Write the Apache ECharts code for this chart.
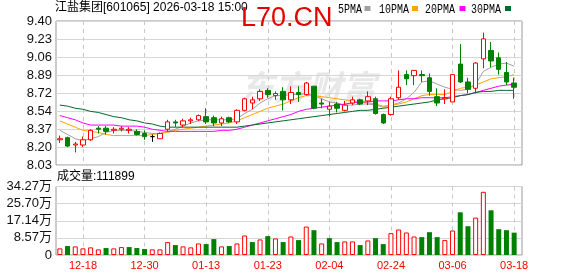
<!DOCTYPE html>
<html><head><meta charset="utf-8">
<script src="https://cdn.jsdelivr.net/npm/echarts@6/dist/echarts.min.js"></script>
<style>html,body{margin:0;padding:0;background:#fff}#c{width:578px;height:276px}</style>
</head><body><div id="c"></div>
<script>
const dates = ['12-15','12-16','12-17','12-18','12-19','12-22','12-23','12-24','12-25','12-26','12-29','12-30','12-31','01-05','01-06','01-07','01-08','01-09','01-12','01-13','01-14','01-15','01-16','01-19','01-20','01-21','01-22','01-23','01-26','01-27','01-28','01-29','01-30','02-02','02-03','02-04','02-05','02-06','02-09','02-10','02-11','02-12','02-13','02-24','02-25','02-26','02-27','03-02','03-03','03-04','03-05','03-06','03-09','03-10','03-11','03-12','03-13','03-16','03-17','03-18'];
const opens  = [8.27,8.29,8.22,8.22,8.27,8.38,8.38,8.36,8.37,8.36,8.35,8.33,8.30,8.28,8.37,8.44,8.41,8.45,8.46,8.49,8.48,8.43,8.48,8.44,8.55,8.62,8.66,8.74,8.69,8.73,8.65,8.72,8.70,8.78,8.62,8.56,8.61,8.55,8.62,8.65,8.64,8.66,8.51,8.51,8.67,8.89,8.88,8.89,8.86,8.68,8.66,8.63,8.99,8.82,8.76,9.04,9.12,9.05,8.91,8.81];
const closes = [8.28,8.21,8.23,8.27,8.36,8.37,8.35,8.37,8.38,8.37,8.32,8.30,8.30,8.33,8.44,8.43,8.45,8.46,8.50,8.44,8.43,8.47,8.44,8.55,8.66,8.65,8.73,8.70,8.71,8.65,8.72,8.70,8.81,8.57,8.61,8.59,8.57,8.60,8.65,8.61,8.68,8.52,8.43,8.66,8.77,8.85,8.93,8.88,8.73,8.62,8.67,8.89,8.82,8.75,9.00,9.23,9.02,8.94,8.82,8.77];
const lows   = [8.24,8.20,8.15,8.20,8.26,8.33,8.32,8.33,8.35,8.33,8.31,8.27,8.25,8.28,8.35,8.39,8.39,8.42,8.45,8.42,8.40,8.40,8.43,8.42,8.54,8.56,8.64,8.67,8.65,8.55,8.61,8.63,8.69,8.56,8.57,8.49,8.53,8.54,8.60,8.60,8.60,8.51,8.42,8.50,8.65,8.79,8.79,8.82,8.69,8.59,8.61,8.63,8.81,8.71,8.71,8.95,8.96,8.89,8.79,8.66];
const highs  = [8.31,8.30,8.25,8.30,8.37,8.40,8.40,8.39,8.40,8.39,8.37,8.36,8.32,8.34,8.46,8.46,8.47,8.48,8.51,8.57,8.50,8.49,8.49,8.56,8.67,8.68,8.75,8.76,8.73,8.77,8.78,8.78,8.82,8.78,8.66,8.63,8.63,8.64,8.68,8.66,8.73,8.68,8.52,8.68,8.93,8.93,8.93,8.93,8.90,8.76,8.75,8.89,9.18,8.86,9.01,9.29,9.20,9.10,9.01,8.86];
const ma5  = [8.36,8.32,8.28,8.26,8.28,8.30,8.34,8.36,8.36,8.36,8.35,8.34,8.33,8.33,8.35,8.37,8.40,8.43,8.45,8.46,8.46,8.46,8.46,8.47,8.52,8.56,8.62,8.66,8.69,8.69,8.70,8.70,8.71,8.69,8.66,8.63,8.62,8.60,8.60,8.61,8.61,8.60,8.58,8.60,8.62,8.66,8.72,8.82,8.83,8.80,8.77,8.75,8.74,8.75,8.80,8.92,8.96,8.99,9.00,8.97];
const ma10 = [8.45,8.42,8.39,8.36,8.35,8.34,8.32,8.31,8.31,8.31,8.31,8.31,8.32,8.33,8.34,8.36,8.37,8.38,8.39,8.40,8.41,8.42,8.43,8.45,8.48,8.51,8.54,8.57,8.59,8.61,8.64,8.67,8.69,8.69,8.68,8.67,8.66,8.65,8.64,8.63,8.62,8.61,8.59,8.60,8.61,8.63,8.66,8.69,8.70,8.70,8.70,8.73,8.76,8.77,8.79,8.82,8.85,8.86,8.87,8.89];
const ma20 = [8.50,8.48,8.46,8.43,8.41,8.41,8.41,8.41,8.40,8.40,8.40,8.39,8.37,8.36,8.35,8.35,8.35,8.35,8.35,8.35,8.35,8.36,8.36,8.37,8.39,8.41,8.43,8.45,8.47,8.49,8.51,8.54,8.56,8.57,8.58,8.59,8.60,8.61,8.62,8.63,8.63,8.64,8.64,8.64,8.65,8.66,8.66,8.67,8.67,8.67,8.67,8.68,8.69,8.70,8.72,8.74,8.76,8.78,8.79,8.80];
const ma30 = [8.60,8.59,8.57,8.56,8.54,8.53,8.51,8.49,8.48,8.46,8.45,8.43,8.42,8.40,8.39,8.39,8.39,8.39,8.39,8.39,8.39,8.39,8.39,8.39,8.40,8.41,8.42,8.43,8.44,8.45,8.46,8.47,8.48,8.49,8.50,8.51,8.52,8.53,8.54,8.55,8.55,8.56,8.57,8.58,8.59,8.60,8.61,8.62,8.63,8.65,8.66,8.67,8.69,8.70,8.72,8.73,8.73,8.74,8.74,8.74];
const volumes = [33100,44700,43000,33100,38100,28100,34800,33100,39700,39700,34800,29800,28100,28100,64600,49700,43000,38100,57900,54600,79500,43000,44700,57900,97700,64600,77800,94400,82800,64600,92700,74500,142400,124200,57900,84400,64600,67900,67900,49700,72800,84400,54600,109300,127500,112600,92700,89400,114200,89400,74500,122500,213600,144000,187100,316200,223500,129100,124200,111899];
const priceTicks = ['8.03','8.20','8.37','8.54','8.72','8.89','9.06','9.23','9.40'];
const volTicks = ['0','8.57万','17.14万','25.70万','34.27万'];
const titleText = '江盐集团[601065] 2026-03-18 15:00';
const maNames = ['5PMA','10PMA','20PMA','30PMA'];

const UP = '#ff0000', DOWN = '#008000';
const maColors = ['#a0a0a0','#ffa500','#ff00ff','#006b2a'];
const pMin = 8.03, pMax = 9.40, pInt = (pMax - pMin) / 8;
const vMax = 342700, vInt = vMax / 4;

const candle = dates.map((d, i) => [opens[i], closes[i], lows[i], highs[i]]);
const volUp = volumes.map((v, i) => closes[i] >= (i > 0 ? closes[i - 1] : opens[i]) ? v : '-');
const volDown = volumes.map((v, i) => closes[i] >= (i > 0 ? closes[i - 1] : opens[i]) ? '-' : v);
const labelIdx = (i) => i % 8 === 3;
const font = "'Liberation Sans','Noto Sans CJK SC',sans-serif";

const chart = echarts.init(document.getElementById('c'), null, {renderer: 'canvas'});
const maSeries = [ma5, ma10, ma20, ma30].map((arr, k) => ({
  type: 'line', name: maNames[k], data: arr, xAxisIndex: 1, yAxisIndex: 1,
  symbol: 'none', smooth: false, lineStyle: {width: 1, color: maColors[k]}, z: 3, silent: true
}));

const legendGraphics = [];
const legX = [338, 379, 425, 471];
const sqX = [364.5, 412, 459.5, 505];
maNames.forEach((n, k) => {
  legendGraphics.push({type: 'text', left: legX[k], top: 4, scaleX: 0.83, originX: 0,
    style: {text: n, font: "12px 'Liberation Mono',monospace", fill: '#000'}, z: 50});
  legendGraphics.push({type: 'rect', left: sqX[k], top: 6, shape: {width: 6, height: 5},
    style: {fill: maColors[k]}, z: 50});
});

chart.setOption({
  animation: false,
  backgroundColor: '#fff',
  grid: [
    {left: 56, top: 21, width: 466, height: 144, show: true, borderColor: '#999', borderWidth: 1},
    {left: 56, top: 21, width: 462, height: 144},
    {left: 56, top: 186.5, width: 466, height: 68.5, show: true, borderColor: '#999', borderWidth: 1},
    {left: 56, top: 186.5, width: 462, height: 68.5}
  ],
  xAxis: [
    {gridIndex: 0, type: 'value', min: 0, max: 1, show: false},
    {gridIndex: 1, type: 'category', data: dates, boundaryGap: true,
      axisLine: {show: false}, axisTick: {show: false}, axisLabel: {show: false},
      splitLine: {show: true, alignWithLabel: true, interval: labelIdx, lineStyle: {color: '#c8c8c8', type: [4, 4]}}},
    {gridIndex: 2, type: 'value', min: 0, max: 1, show: false},
    {gridIndex: 3, type: 'category', data: dates, boundaryGap: true,
      axisLine: {show: false}, axisTick: {show: false},
      axisLabel: {show: true, interval: labelIdx, color: '#ff0000', fontSize: 11, fontFamily: font, margin: 5},
      splitLine: {show: true, alignWithLabel: true, interval: labelIdx, lineStyle: {color: '#c8c8c8', type: [4, 4]}}}
  ],
  yAxis: [
    {gridIndex: 0, type: 'value', min: pMin, max: pMax, interval: pInt,
      axisLine: {show: false}, axisTick: {show: false},
      axisLabel: {margin: 4, fontSize: 13, color: '#111', fontFamily: font,
        formatter: (v) => priceTicks[Math.round((v - pMin) / pInt)]},
      splitLine: {show: true, lineStyle: {color: '#d6d6d6', width: 1}}},
    {gridIndex: 1, type: 'value', min: pMin, max: pMax, show: false, splitLine: {show: false}},
    {gridIndex: 2, type: 'value', min: 0, max: vMax, interval: vInt,
      axisLine: {show: false}, axisTick: {show: false},
      axisLabel: {margin: 4, fontSize: 13, color: '#111', fontFamily: font,
        formatter: (v) => volTicks[Math.round(v / vInt)]},
      splitLine: {show: true, lineStyle: {color: '#d6d6d6', width: 1}}},
    {gridIndex: 3, type: 'value', min: 0, max: vMax, show: false, splitLine: {show: false}}
  ],
  series: [
    {type: 'candlestick', data: candle, xAxisIndex: 1, yAxisIndex: 1, barWidth: 5, z: 4,
      itemStyle: {color: '#ffffff', color0: DOWN, borderColor: UP, borderColor0: DOWN, borderColorDoji: '#000', borderWidth: 1}},
    ...maSeries,
    {type: 'bar', data: volUp, xAxisIndex: 3, yAxisIndex: 3, barWidth: 5, barGap: '-100%',
      itemStyle: {color: '#ffffff', borderColor: UP, borderWidth: 1}},
    {type: 'bar', data: volDown, xAxisIndex: 3, yAxisIndex: 3, barWidth: 5, barGap: '-100%',
      itemStyle: {color: DOWN}}
  ],
  graphic: [
    {type: 'text', left: 240, top: 70, z: 0, silent: true,
      style: {text: '东方财富', font: "italic bold 34px 'Noto Sans CJK SC'", fill: '#e8e8e8'}},
    {type: 'text', left: 55, top: 2, z: 50,
      style: {text: titleText, font: "12px " + font, fill: '#000'}},
    {type: 'text', left: 57, top: 171, z: 50,
      style: {text: '成交量:' + volumes[volumes.length - 1], font: "12px " + font, fill: '#000'}},
    ...legendGraphics,
    {type: 'text', left: 241, top: 5, z: 100,
      style: {text: 'L70.CN', font: "27px 'Liberation Sans',Arial,sans-serif", fill: '#e60000'}}
  ]
});
</script></body></html>
